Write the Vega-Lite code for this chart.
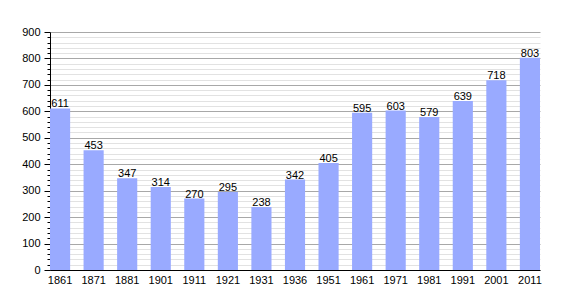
{
  "$schema": "https://vega.github.io/schema/vega-lite/v6.json",
  "width": 490,
  "height": 238,
  "autosize": {"type": "none"},
  "padding": {"left": 50, "top": 32, "right": 30, "bottom": 30},
  "background": "white",
  "config": {"view": {"stroke": null}, "font": "Liberation Sans"},
  "data": {"values": [
    {"year": "1861", "pop": 611},
    {"year": "1871", "pop": 453},
    {"year": "1881", "pop": 347},
    {"year": "1901", "pop": 314},
    {"year": "1911", "pop": 270},
    {"year": "1921", "pop": 295},
    {"year": "1931", "pop": 238},
    {"year": "1936", "pop": 342},
    {"year": "1951", "pop": 405},
    {"year": "1961", "pop": 595},
    {"year": "1971", "pop": 603},
    {"year": "1981", "pop": 579},
    {"year": "1991", "pop": 639},
    {"year": "2001", "pop": 718},
    {"year": "2011", "pop": 803}
  ]},
  "encoding": {
    "x": {"field": "year", "type": "ordinal", "sort": null,
      "scale": {"paddingInner": 0.4, "paddingOuter": 0},
      "axis": {"title": null, "labelAngle": 0, "ticks": false, "domainColor": "black", "labelColor": "black", "labelFontSize": 11, "labelPadding": 4}},
    "y": {"field": "pop", "type": "quantitative",
      "scale": {"domain": [0, 900], "nice": false},
      "axis": {"title": null,
        "values": [0,20,40,60,80,100,120,140,160,180,200,220,240,260,280,300,320,340,360,380,400,420,440,460,480,500,520,540,560,580,600,620,640,660,680,700,720,740,760,780,800,820,840,860,880,900],
        "labelExpr": "datum.value % 100 === 0 ? datum.label : ''",
        "gridColor": {"condition": {"test": "datum.value % 100 === 0", "value": "#a8a8a8"}, "value": "#e2e2e2"},
        "tickSize": {"condition": {"test": "datum.value % 100 === 0", "value": 6}, "value": 3},
        "tickColor": "black", "domainColor": "black", "labelColor": "black", "labelFontSize": 11, "labelPadding": 4, "labelBound": false, "labelFlush": false, "labelOverlap": false}}
  },
  "layer": [
    {"mark": {"type": "bar", "color": "#99aaff"}},
    {"mark": {"type": "text", "baseline": "bottom", "dy": 1, "fontSize": 11, "color": "black"},
     "encoding": {"text": {"field": "pop", "type": "quantitative"}}}
  ]
}
